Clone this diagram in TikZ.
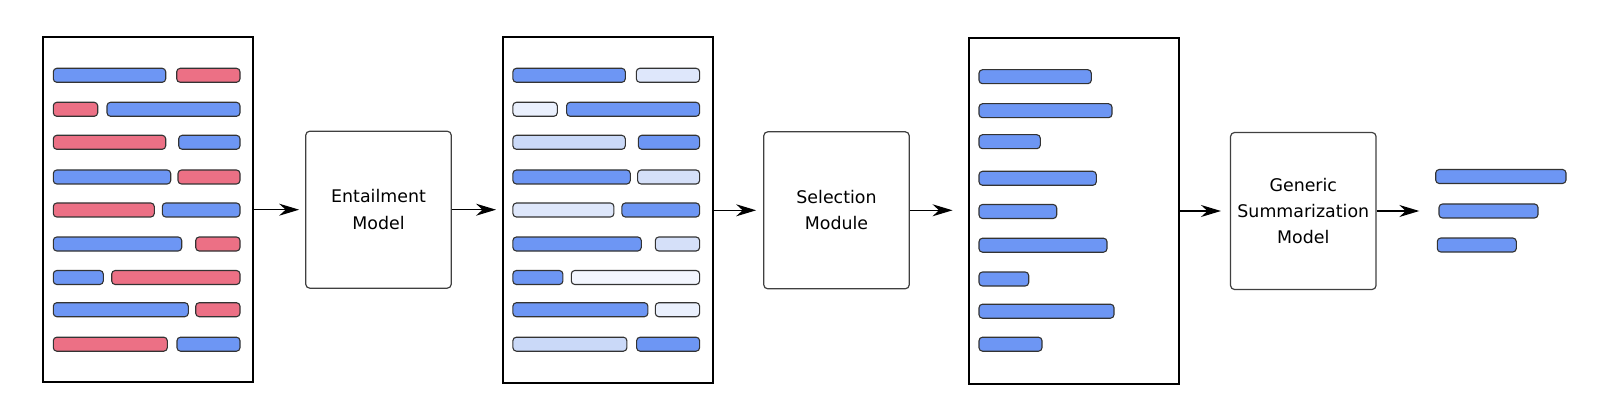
\documentclass[tikz,border=0pt]{standalone}
\usepackage{fontspec}
\setmainfont{DejaVu Sans}
\usetikzlibrary{arrows.meta}

\definecolor{barblue}{RGB}{109,150,244}
\definecolor{barred}{RGB}{236,112,133}
\definecolor{paleA}{RGB}{243,246,254}
\definecolor{paleB}{RGB}{234,240,253}
\definecolor{paleC}{RGB}{222,231,251}
\definecolor{paleD}{RGB}{213,224,249}
\definecolor{paleE}{RGB}{202,217,248}

\begin{document}
\begin{tikzpicture}[x=1pt,y=-1pt,
	doc/.style={draw=black,line width=2pt,minimum width=210pt,minimum height=345.5pt,inner sep=0pt},
	model/.style={draw=black!75,line width=1.2pt,rounded corners=4pt,minimum width=145.5pt,minimum height=157pt,inner sep=0pt,align=center,font=\fontsize{17.4}{26.4}\selectfont},
	bar/.style={draw=black!80,line width=1.1pt,rounded corners=3.5pt},
	flow/.style={-{Stealth[length=20pt,width=12pt]},line width=1.2pt}]
		\useasboundingbox (0,0) rectangle (1614,414);
		% documents and models
		\node [doc] (doc1) at (147.7,209.5) {};
		\node [doc] (doc2) at (607.5,210) {};
		\node [doc] (doc3) at (1073.5,211.2) {};
		\node [model] (entail) at (378.5,209.7) {Entailment\\Model};
		\node [model] (select) at (836.5,210.3) {Selection\\Module};
		\node [model] (summ) at (1303.3,211) {Generic\\Summarization\\Model};
		\coordinate (out) at (1419.3,211);
		% sentences of the source document
		\foreach \xa/\xb/\y/\c in {53.3/165.7/75.3/barblue, 176.7/240/75.3/barred,
				53.3/97.7/109.3/barred, 107/240/109.3/barblue,
				53.3/165.7/142.3/barred, 178.7/240/142.3/barblue,
				53.3/170.7/177/barblue, 178/240/177/barred,
				53.3/154.3/210/barred, 162.3/240/210/barblue,
				53.3/181.7/244/barblue, 195.7/240/244/barred,
				53.3/103.3/277.5/barblue, 111.7/240/277.5/barred,
				53.3/188.3/309.7/barblue, 195.7/240/309.7/barred,
				53.3/167.3/344.2/barred, 177/240/344.2/barblue}
			\draw [bar,fill=\c] (\xa,\y-7) rectangle (\xb,\y+7);
		% scored sentences
		\begin{scope}[xshift=459.6]
		\foreach \xa/\xb/\y/\c in {53.3/165.7/75.3/barblue, 176.7/240/75.3/paleC,
				53.3/97.7/109.3/paleB, 107/240/109.3/barblue,
				53.3/165.7/142.3/paleE, 178.7/240/142.3/barblue,
				53.3/170.7/177/barblue, 178/240/177/paleD,
				53.3/154.3/210/paleC, 162.3/240/210/barblue,
				53.3/181.7/244/barblue, 195.7/240/244/paleD,
				53.3/103.3/277.5/barblue, 111.7/240/277.5/paleA,
				53.3/188.3/309.7/barblue, 195.7/240/309.7/paleB,
				53.3/167.3/344.2/paleE, 177/240/344.2/barblue}
			\draw [bar,fill=\c] (\xa,\y-7) rectangle (\xb,\y+7);
		\end{scope}
		% selected sentences
		\foreach \xb/\y in {1091.3/76.7, 1112/110.7, 1040.3/141.7, 1096.3/178.3,
				1056.7/211.5, 1107/245.2, 1028.7/279, 1114/311.2, 1042/344.2}
			\draw [bar,fill=barblue] (979,\y-7) rectangle (\xb,\y+7);
		% summary
		\draw [bar,fill=barblue] (1435.7,169.5) rectangle (1566,183.5);
		\draw [bar,fill=barblue] (1439,204) rectangle (1538,218);
		\draw [bar,fill=barblue] (1437.3,238) rectangle (1516.3,252);
		% flow
		\draw [flow,shorten >=6pt] (doc1.east |- entail) -- (entail);
		\draw [flow,shorten >=5.5pt] (entail) -- (entail -| doc2.west);
		\draw [flow,shorten >=7pt] (doc2.east |- select) -- (select);
		\draw [flow,shorten >=15pt] (select) -- (select -| doc3.west);
		\draw [flow,shorten >=9pt] (doc3.east |- summ) -- (summ);
		\draw [flow] (summ) -- (out);
\end{tikzpicture}
\end{document}
